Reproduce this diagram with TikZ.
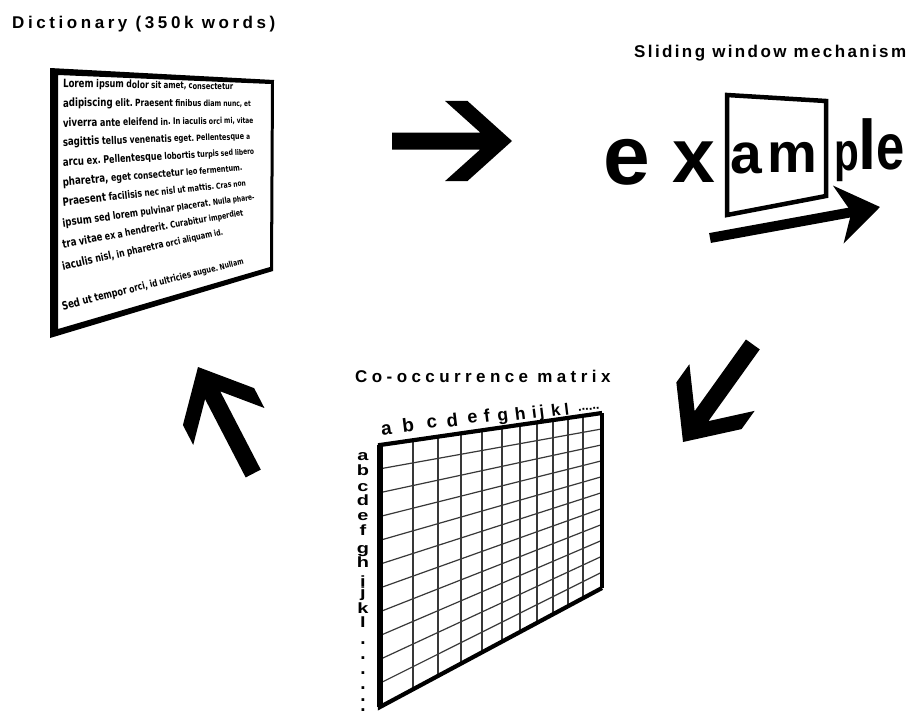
\documentclass[tikz,border=0pt]{standalone}
\usepackage{fontspec}
\setmainfont{Liberation Sans}
\newfontfamily\headfont{Liberation Sans}
\newfontfamily\pagefont{DejaVu Sans}
\usetikzlibrary{arrows.meta,calc}

\tikzset{
  title/.style={anchor=base west, inner sep=0pt, font=\headfont\bfseries\fontsize{17}{18}\selectfont},
  pword/.style={anchor=base west, inner sep=0pt, outer sep=0pt},
  bigl/.style={anchor=base, inner sep=0pt, outer sep=0pt},
  lbl/.style={anchor=base, inner sep=0pt, outer sep=0pt, font=\bfseries\fontsize{19}{19}\selectfont},
  gridline/.style={draw=black!78, line width=1.2pt},
}

% one line of text on the tilted page: words shrink towards the far edge
\newdimen\wordx
\newcommand\pageline[3]{%
  \coordinate (pl-cur) at #1;
  \foreach \w in {#3}{%
    \pgfextractx{\wordx}{\pgfpointanchor{pl-cur}{center}}%
    \pgfmathsetmacro\wfs{max(6.8,11.4-0.021*(\wordx-63))}%
    \node[pword, rotate=#2, xscale=0.76,
          font=\pagefont\bfseries\fontsize{\wfs}{\wfs}\selectfont] (pl-w) at (pl-cur) {\w\kern.3em};
    \coordinate (pl-cur) at (pl-w.base east);
  }%
}

% thick chevron arrow, tip at #1, pointing in direction #2
\newcommand\chevarrow[2]{%
  \fill[shift={(#1)}, rotate=#2]
    (-120,8.5) -- (-31.8,8.5) -- (-67,40.1) -- (-44.6,40.1) -- (0,0)
    -- (-44.6,-40.1) -- (-67,-40.1) -- (-31.8,-8.5) -- (-120,-8.5) -- cycle;%
}

\begin{document}
\begin{tikzpicture}[x=1pt, y=-1pt, line join=miter]
\useasboundingbox[fill=white] (0,0) rectangle (912,715);

% ---------- titles ----------
\node[title] (t-dict) at (12,28) {\addfontfeature{LetterSpace=21}Dictionary (350k words)};
\node[title] (t-slide) at (634,57) {\addfontfeature{LetterSpace=14}Sliding window mechanism};
\node[title] (t-cooc) at (355,382) {\addfontfeature{LetterSpace=26}Co-occurrence matrix};

% ---------- dictionary page ----------
\fill[even odd rule]
  (50,68) -- (274,80) -- (273,271) -- (50,338) -- cycle
  (58,75) -- (271,84) -- (270,267) -- (58,329) -- cycle;

\pageline{(63,87)}{-0.9}{Lorem,ipsum,dolor,sit,{amet,},consectetur}
\pageline{(63,107)}{0.3}{adipiscing,elit.,Praesent,finibus,diam,{nunc,},et}
\pageline{(63,127)}{1.1}{viverra,ante,eleifend,in.,In,iaculis,orci,{mi,},vitae}
\pageline{(63,146)}{2.1}{sagittis,tellus,venenatis,eget.,Pellentesque,a}
\pageline{(63,166)}{3.5}{arcu,ex.,Pellentesque,lobortis,turpis,sed,libero}
\pageline{(63,186)}{4.9}{{pharetra,},eget,consectetur,leo,fermentum.}
\pageline{(63,206)}{6.3}{Praesent,facilisis,nec,nisl,ut,mattis.,Cras,non}
\pageline{(63,227)}{8.1}{ipsum,sed,lorem,pulvinar,placerat.,Nulla,phare-}
\pageline{(63,248)}{10.2}{tra,vitae,ex,a,hendrerit.,Curabitur,imperdiet}
\pageline{(63,270)}{12.4}{iaculis,{nisl,},in,pharetra,orci,aliquam,id.}
\pageline{(63,310)}{14.2}{Sed,ut,tempor,{orci,},id,ultricies,augue.,Nullam}

% ---------- sliding window ----------
\node[bigl, font=\bfseries\fontsize{84}{84}\selectfont] (ex-e) at (626.5,184) {e};
\node[bigl, font=\bfseries\fontsize{77}{77}\selectfont] (ex-x) at (693.5,182) {x};
\node[bigl, font=\bfseries\fontsize{57}{57}\selectfont] (ex-a) at (746,173) {a};
\node[bigl, font=\bfseries\fontsize{56}{56}\selectfont] (ex-m) at (792,172) {m};
\node[bigl, xscale=0.75, font=\bfseries\fontsize{54}{54}\selectfont] (ex-p) at (847,170) {p};
\node[bigl, yscale=1.08, font=\bfseries\fontsize{65}{65}\selectfont] (ex-l) at (867.5,169) {l};
\node[bigl, xscale=0.78, font=\bfseries\fontsize{65}{65}\selectfont] (ex-e2) at (891,169) {e};

\draw[line width=4.5pt] (727,95) -- (826,101) -- (826,196) -- (727,215) -- cycle;

\coordinate (sw-s) at (710,238);
\coordinate (sw-t) at (880,207);
\draw[line width=10pt, -{Stealth[length=42pt, width=58pt, inset=13pt]}] (sw-s) -- (sw-t);

% ---------- cycle arrows ----------
\coordinate (arr-1) at (512,141);
\coordinate (arr-2) at (683,442);
\coordinate (arr-3) at (198,367);
\chevarrow{arr-1}{0}
\chevarrow{arr-2}{234.4}
\chevarrow{arr-3}{117.4}

% ---------- co-occurrence matrix ----------
\coordinate (m-tl) at (380,445);
\coordinate (m-tr) at (602,413);
\coordinate (m-br) at (602,588);
\coordinate (m-bl) at (380,707);

\foreach \t in {0.1486,0.2613,0.3649,0.4595,0.5495,0.6306,0.7072,0.7793,0.8468,0.9144}
  \draw[gridline] ($(m-tl)!\t!(m-tr)$) -- ($(m-bl)!\t!(m-br)$);
\foreach \k in {1,...,10}
  \draw[gridline] ($(m-tl)!{\k/11}!(m-bl)$) -- ($(m-tr)!{\k/11}!(m-br)$);

\draw[line width=3.2pt] (m-tr) -- (m-br);
\draw[line width=4.2pt] (m-br) -- (m-bl) -- (m-tl) -- (m-tr);
\draw[line width=5.5pt] (m-tl) -- (m-bl);

% column labels
\foreach \c/\x/\y/\s in {a/387/435/19,b/409/432/19,c/432.5/428/18.5,d/453/427/18.5,
    e/473/423/18,f/487.5/422/18,g/503.5/421/17.5,h/521/420/17.5,i/535/418/17,
    j/542.5/417/17,k/556.5/416/16.5,l/567.5/415/16.5}
  \node[lbl, rotate=7, font=\bfseries\fontsize{\s}{\s}\selectfont] (col-\c) at (\x,\y) {\c};
\node[lbl, rotate=7, font=\bfseries\fontsize{13}{13}\selectfont] (col-dots) at (589,410) {......};

% row labels
\foreach \c/\y in {a/460,b/475,c/491,d/505,e/520,f/535,g/553,h/567,i/586,j/597,k/613,l/627}
  \node[lbl, yscale=0.78, xscale=1.05] (row-\c) at (363,\y) {\c};
\foreach \y [count=\n] in {644,659,674,689,701,711}
  \node[lbl] (row-dot\n) at (363,\y) {.};

\end{tikzpicture}
\end{document}
